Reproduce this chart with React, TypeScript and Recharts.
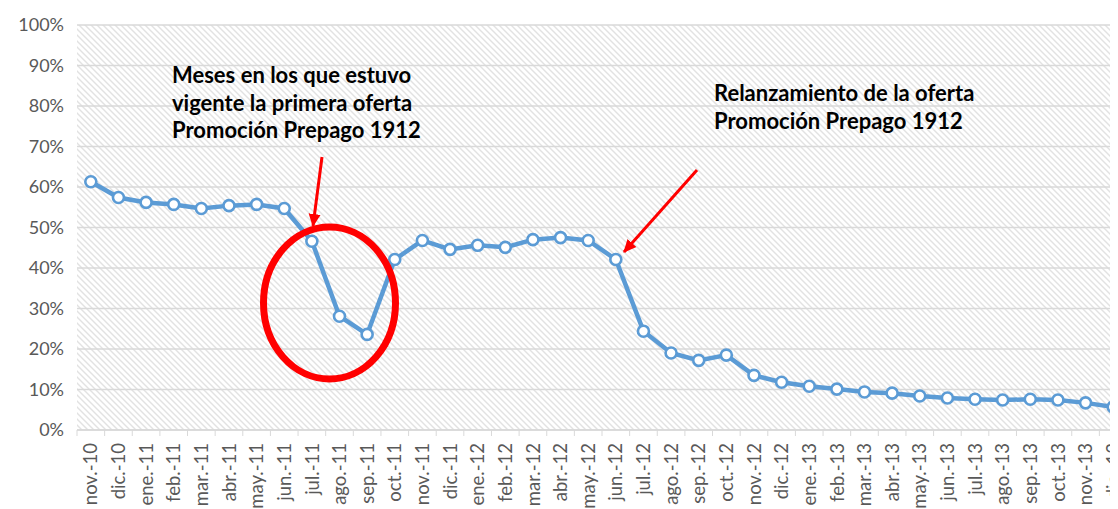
import React from "react";
import { LineChart, Line, XAxis, YAxis, CartesianGrid } from "recharts";

const MONTHS = [
  "nov.-10", "dic.-10",
  "ene.-11", "feb.-11", "mar.-11", "abr.-11", "may.-11", "jun.-11",
  "jul.-11", "ago.-11", "sep.-11", "oct.-11", "nov.-11", "dic.-11",
  "ene.-12", "feb.-12", "mar.-12", "abr.-12", "may.-12", "jun.-12",
  "jul.-12", "ago.-12", "sep.-12", "oct.-12", "nov.-12", "dic.-12",
  "ene.-13", "feb.-13", "mar.-13", "abr.-13", "may.-13", "jun.-13",
  "jul.-13", "ago.-13", "sep.-13", "oct.-13", "nov.-13", "dic.-13",
];

// share (%)
const SHARE = [
  61.3, 57.4,
  56.2, 55.7, 54.7, 55.4, 55.7, 54.7,
  46.6, 28.1, 23.6, 42.1, 46.8, 44.6,
  45.6, 45.1, 47.0, 47.5, 46.8, 42.1,
  24.4, 19.0, 17.2, 18.5, 13.5, 11.8,
  10.8, 10.1, 9.4, 9.1, 8.4, 7.9,
  7.6, 7.4, 7.6, 7.4, 6.7, 5.7,
];

const Y_TICKS = [0, 10, 20, 30, 40, 50, 60, 70, 80, 90, 100];

const NOTE_1 = ["Meses en los que estuvo", "vigente la primera oferta", "Promoción Prepago 1912"];
const NOTE_2 = ["Relanzamiento de la oferta", "Promoción Prepago 1912"];

const BLUE = "#5B9BD5";
const AXIS_TEXT = "#595959";
const FONT = "Lato, 'Open Sans', sans-serif";

const W = 1130;
const H = 501;
const MARGIN = { top: 17, right: 11, left: 0, bottom: 0 };
const Y_W = 69;
const HALF = (W - MARGIN.left - MARGIN.right - Y_W) / MONTHS.length / 2;

const data = MONTHS.map((m, i) => ({ month: m, share: SHARE[i] }));

function MonthTick({ x, y, payload, index }: any) {
  const ty = y + 13;
  return (
    <g>
      <line x1={x - HALF} x2={x - HALF} y1={y} y2={y + 6} stroke="#D9D9D9" />
      {index === MONTHS.length - 1 && (
        <line x1={x + HALF} x2={x + HALF} y1={y} y2={y + 6} stroke="#D9D9D9" />
      )}
      <text
        x={x}
        y={ty}
        transform={`rotate(-90, ${x}, ${ty})`}
        textAnchor="end"
        dy="0.36em"
        fill={AXIS_TEXT}
        fontSize={18.5}
        fontFamily={FONT}
      >
        {payload.value}
      </text>
    </g>
  );
}

function Annotations() {
  return (
    <svg
      width={1118}
      height={509}
      style={{ position: "absolute", left: -8, top: -8, pointerEvents: "none" }}
    >
      <defs>
        <marker id="head" markerUnits="userSpaceOnUse" markerWidth="14" markerHeight="14"
          refX="12" refY="7" orient="auto">
          <path d="M0,1 L13,7 L0,13 z" fill="#FF0000" />
        </marker>
      </defs>
      <ellipse cx={329.5} cy={303} rx={66} ry={76} fill="none" stroke="#FF0000" strokeWidth={7} />
      <line x1={322} y1={157} x2={313} y2={226} stroke="#FF0000" strokeWidth={3} markerEnd="url(#head)" />
      <line x1={697} y1={170} x2={624} y2={252} stroke="#FF0000" strokeWidth={3} markerEnd="url(#head)" />
      <g fontFamily={FONT} fontWeight={700} fontSize={22} fill="#000">
        {NOTE_1.map((t, i) => (
          <text key={t} x={172} y={83 + i * 27.5}>{t}</text>
        ))}
        {NOTE_2.map((t, i) => (
          <text key={t} x={714} y={101 + i * 27.5}>{t}</text>
        ))}
      </g>
    </svg>
  );
}

export default function App() {
  return (
    <div style={{ position: "relative", width: 1110, height: H, overflow: "hidden" }}>
      <LineChart width={W} height={H} data={data} margin={MARGIN}>
        <defs>
          <pattern id="hatch" patternUnits="userSpaceOnUse" width="6" height="6">
            <rect width="6" height="6" fill="#fff" />
            <path d="M-1,-1 L7,7 M-1,5 L1,7 M5,-1 L7,1" stroke="#E2E2E2" strokeWidth={1.4} />
          </pattern>
        </defs>
        <CartesianGrid vertical={false} stroke="#D9D9D9" strokeWidth={1.3} fill="url(#hatch)" fillOpacity={1} />
        <XAxis
          dataKey="month"
          interval={0}
          height={79}
          padding={{ left: HALF, right: HALF }}
          tickLine={false}
          tickSize={0}
          tickMargin={0}
          axisLine={{ stroke: "#D9D9D9", strokeWidth: 1.3 }}
          tick={<MonthTick />}
        />
        <YAxis
          width={Y_W}
          domain={[0, 100]}
          ticks={Y_TICKS}
          interval={0}
          axisLine={false}
          tickLine={false}
          tickSize={0}
          tickMargin={13}
          tickFormatter={(v) => `${v}%`}
          tick={{ fill: AXIS_TEXT, fontSize: 18, fontFamily: FONT }}
        />
        <Line
          type="linear"
          dataKey="share"
          stroke={BLUE}
          strokeWidth={4.5}
          dot={{ r: 5.5, fill: "#fff", stroke: BLUE, strokeWidth: 2.6 }}
          activeDot={false}
          isAnimationActive={false}
        />
      </LineChart>
      <Annotations />
    </div>
  );
}
